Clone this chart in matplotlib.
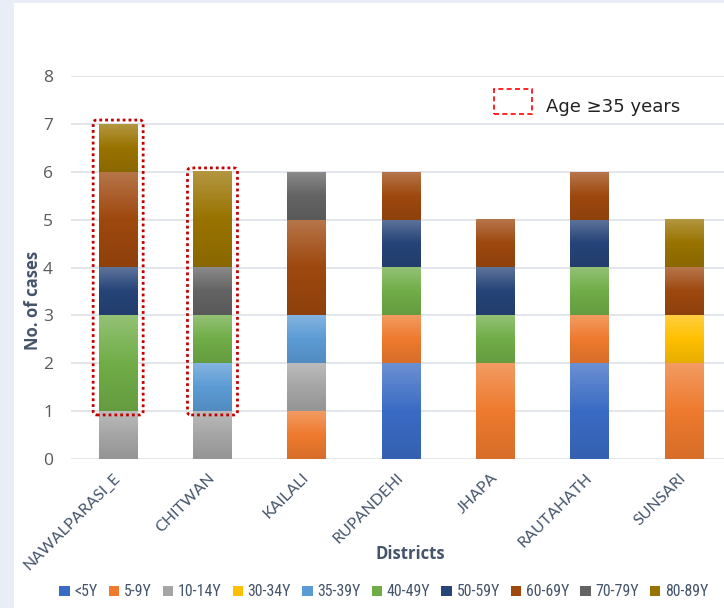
import numpy as np
import matplotlib
matplotlib.use("Agg")
import matplotlib.pyplot as plt
from matplotlib import font_manager
from matplotlib.patches import Patch, FancyBboxPatch, Rectangle
from matplotlib.colors import to_rgb

# ---------------- data ----------------
districts = ["NAWALPARASI_E", "CHITWAN", "KAILALI", "RUPANDEHI", "JHAPA", "RAUTAHATH", "SUNSARI"]
age_groups = ["<5Y", "5-9Y", "10-14Y", "30-34Y", "35-39Y", "40-49Y", "50-59Y", "60-69Y", "70-79Y", "80-89Y"]
age_lt5 = [0, 0, 0, 2, 0, 2, 0]
age_5_9 = [0, 0, 1, 1, 2, 1, 2]
age_10_14 = [1, 1, 1, 0, 0, 0, 0]
age_30_34 = [0, 0, 0, 0, 0, 0, 1]
age_35_39 = [0, 1, 1, 0, 0, 0, 0]
age_40_49 = [2, 1, 0, 1, 1, 1, 0]
age_50_59 = [1, 0, 0, 1, 1, 1, 0]
age_60_69 = [2, 0, 2, 1, 1, 1, 1]
age_70_79 = [0, 1, 1, 0, 0, 0, 0]
age_80_89 = [1, 2, 0, 0, 0, 0, 1]
series = [age_lt5, age_5_9, age_10_14, age_30_34, age_35_39,
          age_40_49, age_50_59, age_60_69, age_70_79, age_80_89]
highlighted = ["NAWALPARASI_E", "CHITWAN"]
highlight_label = "Age \u226535 years"
n_young_groups = 4  # groups below 35 years
y_ticks = [0, 1, 2, 3, 4, 5, 6, 7, 8]

colors = ["#3a6bc4", "#ee7a2e", "#a5a5a5", "#ffc000", "#5b9bd5",
          "#70ad47", "#264478", "#9e480e", "#636363", "#997300"]

# pick a narrow font for the legend if one exists
installed = {f.name for f in font_manager.fontManager.ttflist}
legend_family = "DejaVu Sans"
for cand in ["Roboto Condensed", "Liberation Sans Narrow", "DejaVu Sans Condensed", "Open Sans Condensed", "Lato"]:
    if cand in installed:
        legend_family = cand
        break

# ---------------- figure ----------------
fig = plt.figure(figsize=(7.24, 6.08), dpi=100)
fig.patch.set_facecolor("#e9edf5")
fig.add_artist(Rectangle((14 / 724, 0), 1, 1 - 3 / 608, transform=fig.transFigure,
                         facecolor="white", edgecolor="none", zorder=-10))

ax = fig.add_axes([71 / 724, 149 / 608, (724 - 71) / 724, 383 / 608])
ax.set_facecolor("none")

x = np.arange(len(districts))
width = 0.41


def gradient_bar(xc, bottom, height, color):
    rgb = np.array(to_rgb(color))
    light = rgb + (1 - rgb) * 0.25
    dark = rgb * 0.9
    t = np.linspace(0, 1, 64)[:, None]
    top_half = light + (rgb - light) * np.clip(t / 0.5, 0, 1)
    img = np.where(t < 0.5, top_half, rgb + (dark - rgb) * np.clip((t - 0.5) / 0.5, 0, 1))
    img = img[:, None, :]
    ax.imshow(img, extent=(xc - width / 2, xc + width / 2, bottom, bottom + height),
              origin="upper", aspect="auto", interpolation="bilinear", zorder=2)


bottoms = np.zeros(len(districts))
for vals, col in zip(series, colors):
    vals = np.array(vals, dtype=float)
    for i in range(len(districts)):
        if vals[i] > 0:
            gradient_bar(x[i], bottoms[i], vals[i], col)
    bottoms += vals

totals = bottoms
young = np.sum(np.array(series[:n_young_groups]), axis=0)

# highlight boxes
for name in highlighted:
    i = districts.index(name)
    padx, pady = 0.06, 0.08
    x0 = x[i] - width / 2 - padx
    y0 = young[i] - pady
    w = width + 2 * padx
    h = totals[i] - young[i] + 2 * pady
    box = FancyBboxPatch((x0, y0), w, h, boxstyle="round,pad=0,rounding_size=0.04",
                         mutation_aspect=2.0, fill=False, edgecolor="#c00000",
                         linewidth=2.0, linestyle=(0, (1, 1.1)), zorder=4)
    ax.add_patch(box)

ax.set_xlim(-0.5, 6 + (724 - 684) / 94.3)
ax.set_ylim(0, 8)
ax.set_yticks(y_ticks)
ax.yaxis.grid(True, color="#dde1e8", linewidth=1.2, zorder=0)
ax.set_axisbelow(True)
for s in ax.spines.values():
    s.set_visible(False)
ax.tick_params(axis="both", length=0)
ax.tick_params(axis="y", pad=13, labelsize=12.5, labelcolor="#595959")
ax.set_yticklabels([str(v) for v in y_ticks], family="Open Sans")
ax.set_xticks(x)
ax.set_xticklabels(districts, rotation=45, ha="right", va="center", rotation_mode="anchor",
                   fontsize=11.5, color="#44546a", family="Lato")
ax.tick_params(axis="x", pad=12)

fig.text(33 / 724, 1 - 300 / 608, "No. of cases", rotation=90, ha="center", va="center",
         fontsize=12, fontweight="bold", color="#44546a", family="Open Sans")
fig.text(410 / 724, 1 - 554 / 608, "Districts", ha="center", va="center",
         fontsize=12, fontweight="bold", color="#44546a", family="Open Sans")

# highlight legend
fig.add_artist(Rectangle((494 / 724, 1 - 114 / 608), 38 / 724, 25 / 608, transform=fig.transFigure,
                         fill=False, edgecolor="#ff0000", linewidth=1.2, linestyle=(0, (3, 2))))
fig.text(546 / 724, 1 - 107 / 608, highlight_label, ha="left", va="center",
         fontsize=13, color="#222222", family="DejaVu Sans")

handles = [Patch(facecolor=c, edgecolor="none") for c in colors]


def make_legend(size):
    return fig.legend(handles, age_groups, loc="center", bbox_to_anchor=(384 / 724, 1 - 592 / 608),
                      ncol=10, frameon=False, handlelength=0.65, handleheight=0.65, handletextpad=0.3,
                      columnspacing=0.7, borderpad=0, prop={"family": legend_family, "size": size},
                      labelcolor="#44546a")


size = 12.0
leg = make_legend(size)
renderer = fig.canvas.get_renderer()
for _ in range(6):
    wpx = leg.get_window_extent(renderer).width
    if abs(wpx - 648) < 4:
        break
    leg.remove()
    size = size * 648 / wpx
    leg = make_legend(size)

fig.savefig("out.png", dpi=100)
